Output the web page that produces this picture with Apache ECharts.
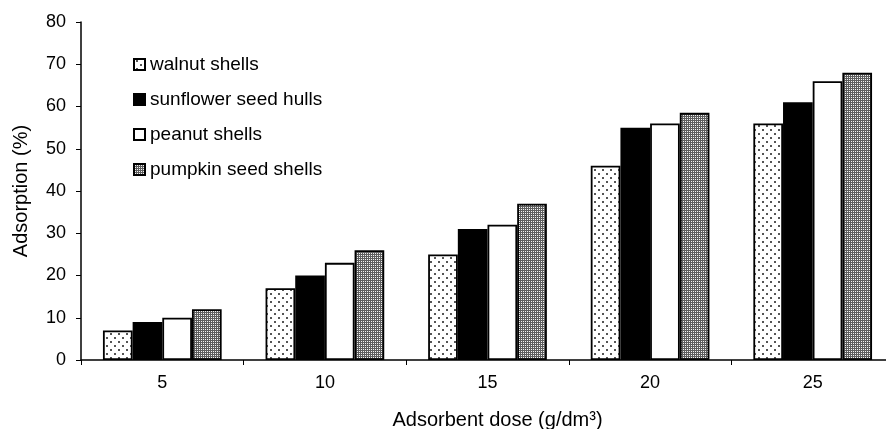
<!DOCTYPE html>
<html>
<head>
<meta charset="utf-8">
<script src="https://cdn.jsdelivr.net/npm/echarts@6/dist/echarts.min.js"></script>
<style>
html,body{margin:0;padding:0;background:#fff;}
#chart1{width:886px;height:429px;}
</style>
</head>
<body>
<div id="chart1"></div>
<script>
var doses=['5','10','15','20','25'];
var seriesNames=['walnut shells','sunflower seed hulls','peanut shells','pumpkin seed shells'];
var walnut=[7,17,25,46,56];
var sunflower=[9,20,31,55,61];
var peanut=[10,23,32,56,66];
var pumpkin=[12,26,37,58.5,68];
var yTicks=[0,80,10];

// sparse dots (walnut)
function dotPattern(){
	var c=document.createElement('canvas');
	c.width=8;c.height=8;
	var ctx=c.getContext('2d');
	ctx.fillStyle='#fff';
	ctx.fillRect(0,0,8,8);
	ctx.fillStyle='#555';
	ctx.fillRect(2,1,2,2);
	ctx.fillRect(6,5,2,2);
	return c;
}
// fine checker (pumpkin)
function checkPattern(){
	var c=document.createElement('canvas');
	c.width=2;c.height=2;
	var ctx=c.getContext('2d');
	ctx.fillStyle='#5e5e5e';
	ctx.fillRect(0,0,2,2);
	ctx.fillStyle='#f4f4f4';
	ctx.fillRect(1,1,1,1);
	return c;
}

chart1();

function barSeries(name,data,fill){
	return {
		name:name,
		type:'bar',
		barGap:'0%',
		barCategoryGap:'27%',
		itemStyle:{
			color:fill,
			borderColor:'#000',
			borderWidth:1.8
		},
		emphasis:{disabled:true},
		data:data
	};
}

function chart1(){
	var myChart=echarts.init(document.getElementById('chart1'));
	var font='Liberation Sans, Arial, sans-serif';
	var option={
		animation:false,
		textStyle:{fontFamily:font},
		grid:{left:81,top:22,right:-8,bottom:69,outerBoundsMode:'none',containLabel:false},
		legend:{
			orient:'vertical',
			left:128,
			top:50,
			itemWidth:11,
			itemHeight:11,
			itemGap:16,
			icon:'rect',
			textStyle:{fontSize:19,color:'#000',fontFamily:font},
			data:seriesNames
		},
		xAxis:{
			type:'category',
			data:doses,
			axisLine:{lineStyle:{color:'#000',width:1.5}},
			axisTick:{show:true,length:5,lineStyle:{color:'#000'}},
			axisLabel:{fontSize:18,color:'#000',margin:14,fontFamily:font},
			name:'Adsorbent dose (g/dm³)',
			nameLocation:'middle',
			nameGap:50,
			nameTextStyle:{fontSize:20,color:'#000',fontFamily:font,padding:[0,0,0,20]}
		},
		yAxis:{
			type:'value',
			min:yTicks[0],
			max:yTicks[1],
			interval:yTicks[2],
			splitLine:{show:false},
			axisLine:{show:true,lineStyle:{color:'#000',width:1.5}},
			axisTick:{show:true,length:5,lineStyle:{color:'#000'}},
			axisLabel:{fontSize:18,color:'#000',margin:15,fontFamily:font},
			name:'Adsorption (%)',
			nameLocation:'middle',
			nameGap:50,
			nameTextStyle:{fontSize:20,color:'#000',fontFamily:font}
		},
		series:[
			barSeries(seriesNames[0],walnut,{image:dotPattern(),repeat:'repeat'}),
			barSeries(seriesNames[1],sunflower,'#000'),
			barSeries(seriesNames[2],peanut,'#fff'),
			barSeries(seriesNames[3],pumpkin,{image:checkPattern(),repeat:'repeat'})
		]
	};
	myChart.setOption(option);
	window.addEventListener('resize',function(){
		myChart.resize();
	});
}
</script>
</body>
</html>
